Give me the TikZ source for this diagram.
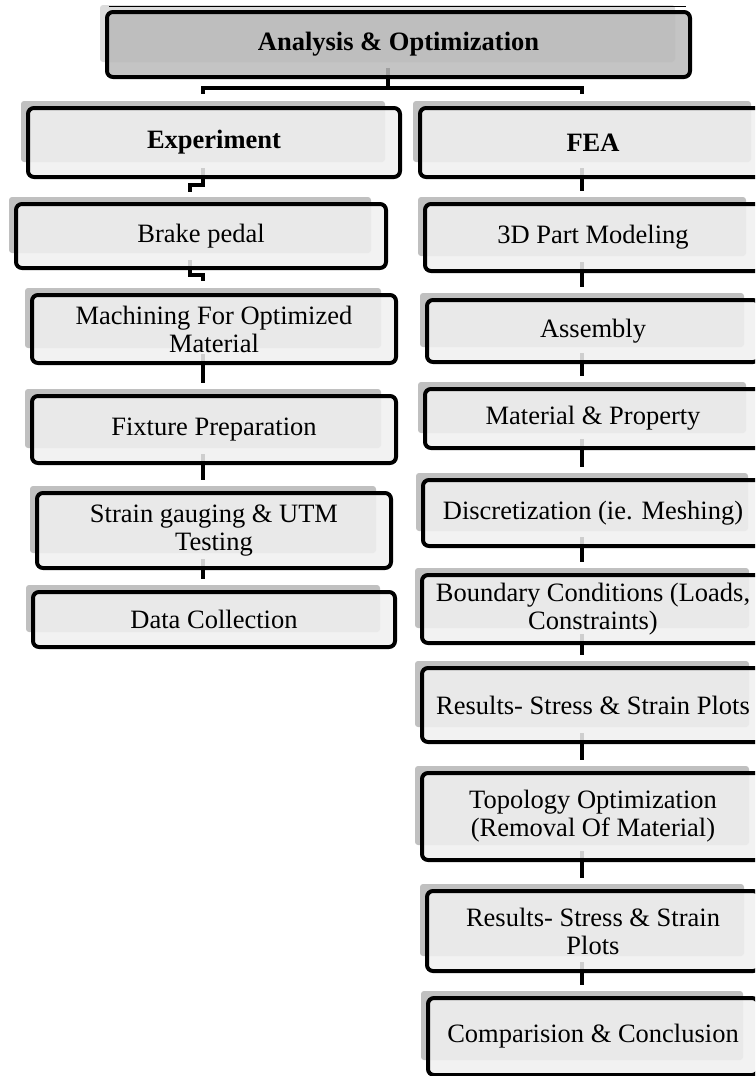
\documentclass[tikz,border=0pt]{standalone}
\usepackage{fontspec}
\setmainfont{Liberation Serif}
\usetikzlibrary{calc}
\pgfdeclarelayer{connlayer}
\pgfdeclarelayer{shadlayer}
\pgfsetlayers{connlayer,shadlayer,main}
\definecolor{boxfill}{HTML}{F0F0F0}
\definecolor{topfill}{HTML}{BABABA}
\definecolor{shadc}{HTML}{C0C0C0}
\definecolor{topshadc}{HTML}{DCDCDC}
\tikzset{
  flowbox/.style={draw=black, line width=4pt, rounded corners=6pt, fill=boxfill,
    fill opacity=0.86, text opacity=1, inner sep=0pt, align=center,
    font=\fontsize{26.5}{28}\selectfont},
  topbox/.style={flowbox, fill=topfill, font=\fontsize{26.5}{28}\selectfont\bfseries},
  headbox/.style={flowbox, font=\fontsize{26.5}{28}\selectfont\bfseries},
  shadowbox/.style={fill=shadc, draw=none, rounded corners=3pt, inner sep=0pt},
  topshadow/.style={shadowbox, fill=topshadc},
  conn/.style={draw=black, line width=4pt}
}
% name, x1, y1, x2, y2, main style, shadow style, text
\newcommand\flowstep[8]{%
  \node[#6, minimum width={(#4-#2)*1pt}, minimum height={(#5-#3)*1pt}] (#1) at ({(#2+#4)/2},{(#3+#5)/2}) {#8};
  \begin{pgfonlayer}{shadlayer}
    \node[#7, minimum width={(#4-#2-8)*1pt}, minimum height={(#5-#3-8)*1pt}] (#1s) at ({(#2+#4)/2-11},{(#3+#5)/2-11}) {};
  \end{pgfonlayer}}
\begin{document}
\begin{tikzpicture}[x=1pt, y=-1pt]
\useasboundingbox (0,0) rectangle (755,1076);
\clip (0,0) rectangle (755,1076);

\flowstep{top}{107}{12}{690}{77}{topbox}{topshadow}{Analysis \& Optimization}
\draw[line width=1pt] ($(top.north west)+(4,-4)$) -- ($(top.north east)+(-6,-4)$);

\flowstep{exp}{28}{108}{400}{177}{headbox}{shadowbox}{Experiment}
\flowstep{fea}{420}{108}{766}{177}{headbox}{shadowbox}{FEA}

\flowstep{brake}{16}{204}{386}{268}{flowbox}{shadowbox}{Brake pedal}
\flowstep{mach}{32}{295}{396}{363}{flowbox}{shadowbox}{Machining For Optimized\\Material}
\flowstep{fix}{32}{396}{396}{463}{flowbox}{shadowbox}{Fixture Preparation}
\flowstep{strain}{37}{493}{391}{568}{flowbox}{shadowbox}{Strain gauging \& UTM\\Testing}
\flowstep{data}{33}{592}{395}{647}{flowbox}{shadowbox}{Data Collection}

\flowstep{part}{425}{204}{761}{271}{flowbox}{shadowbox}{3D Part Modeling}
\flowstep{asm}{427}{300}{759}{362}{flowbox}{shadowbox}{Assembly}
\flowstep{mat}{425}{389}{761}{448}{flowbox}{shadowbox}{Material \& Property}
\flowstep{disc}{423}{480}{763}{546}{flowbox}{shadowbox}{Discretization (ie. Meshing)}
\flowstep{bc}{422}{575}{764}{643}{flowbox}{shadowbox}{Boundary Conditions (Loads,\\Constraints)}
\flowstep{res}{422}{668}{764}{742}{flowbox}{shadowbox}{Results- Stress \& Strain Plots}
\flowstep{topo}{422}{773}{764}{860}{flowbox}{shadowbox}{Topology Optimization\\(Removal Of Material)}
\flowstep{restwo}{427}{891}{759}{971}{flowbox}{shadowbox}{Results- Stress \& Strain\\Plots}
\flowstep{comp}{428}{998}{758}{1075}{flowbox}{shadowbox}{Comparision \& Conclusion}

\begin{pgfonlayer}{connlayer}
  \draw[conn] ($(tops.south)+(0,6)$) -- ($(tops.south)+(0,26)$) -| ($(exps.north)+(0,-7)$);
  \draw[conn] ($(tops.south)+(0,26)$) -| ($(feas.north)+(0,-7)$);
  \draw[conn] ($(exps.south)+(0,6)$) -- ($(exps.south)+(0,23)$) -| ($(brakes.north)+(0,-5)$);
  \draw[conn] ($(brakes.south)+(0,7)$) -- ($(brakes.south)+(0,22)$) -| ($(machs.north)+(0,-7)$);
  \draw[conn] ($(machs.south)+(0,6)$) -- ($(fixs.north)+(0,-6)$);
  \draw[conn] ($(fixs.south)+(0,6)$) -- ($(strains.north)+(0,-6)$);
  \draw[conn] ($(strains.south)+(0,6)$) -- ($(datas.north)+(0,-6)$);
  \draw[conn] ($(feas.south)+(0,6)$) -- ($(parts.north)+(0,-6)$);
  \draw[conn] ($(parts.south)+(0,6)$) -- ($(asms.north)+(0,-6)$);
  \draw[conn] ($(asms.south)+(0,6)$) -- ($(mats.north)+(0,-6)$);
  \draw[conn] ($(mats.south)+(0,6)$) -- ($(discs.north)+(0,-6)$);
  \draw[conn] ($(discs.south)+(0,6)$) -- ($(bcs.north)+(0,-6)$);
  \draw[conn] ($(bcs.south)+(0,6)$) -- ($(ress.north)+(0,-6)$);
  \draw[conn] ($(ress.south)+(0,6)$) -- ($(topos.north)+(0,-6)$);
  \draw[conn] ($(topos.south)+(0,6)$) -- ($(restwos.north)+(0,-6)$);
  \draw[conn] ($(restwos.south)+(0,6)$) -- ($(comps.north)+(0,-6)$);
\end{pgfonlayer}
\end{tikzpicture}
\end{document}
